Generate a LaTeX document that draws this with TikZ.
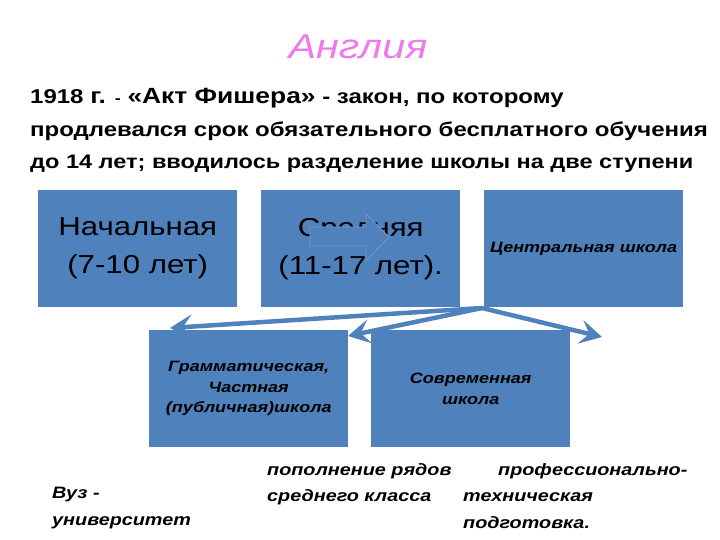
\documentclass[tikz,border=0pt]{standalone}
\usepackage{fontspec}
\setmainfont[FakeStretch=1.2]{Liberation Sans}
\newfontfamily\arial[FakeStretch=1.2]{Liberation Sans}
\usetikzlibrary{arrows.meta,positioning}
\definecolor{boxblue}{RGB}{79,129,189}
\definecolor{arrowline}{RGB}{120,150,200}
\definecolor{titlepink}{RGB}{236,124,236}
\tikzset{
	schoolbox/.style={fill=boxblue, minimum width=199pt, minimum height=117pt,
		anchor=north west, inner sep=0pt, align=center, text=black},
	bigtext/.style={font=\arial\fontsize{26}{38}\selectfont},
	smalltext/.style={font=\arial\bfseries\itshape\fontsize{15}{20.5}\selectfont},
	notetext/.style={font=\arial\bfseries\itshape\fontsize{16.5}{20}\selectfont, anchor=base west, inner sep=0pt},
	bodyline/.style={font=\arial\bfseries\fontsize{20}{24}\selectfont, anchor=base west, inner sep=0pt},
	branch/.style={draw=boxblue, line width=4.5pt, -{Stealth[length=22pt,width=24pt,inset=9pt]}}
}
\begin{document}
\begin{tikzpicture}[x=1pt,y=-1pt]
	\useasboundingbox (0,0) rectangle (720,540);

	% title and header text
	\node[text=titlepink, font=\arial\itshape\fontsize{34.5}{40}\selectfont] (title) at (358,47) {Англия};
	\node[bodyline] (head1) at (30,104) {1918 {\fontsize{22}{24}\selectfont г.} {\fontsize{15}{20}\selectfont -} {\fontsize{22}{24}\selectfont «Акт Фишера»} - закон, по которому};
	\node[bodyline] (head2) at (30,137) {продлевался срок обязательного бесплатного обучения};
	\node[bodyline, font=\arial\bfseries\fontsize{19.6}{24}\selectfont] (head3) at (30,169) {до 14 лет; вводилось разделение школы на две ступени};

	% upper row
	\node[schoolbox, bigtext] (primary) at (38,190) {Начальная\\(7-10 лет)};
	\node[schoolbox, bigtext] (secondary) at (261,190) {Средняя\\(11-17 лет).};
	\node[schoolbox, smalltext] (central) at (484,190) {Центральная школа};

	% block arrow over the second box
	\filldraw[fill=boxblue, draw=arrowline, line width=0.8pt]
		(310,227) -- (366,227) -- (366,214) -- (389,237) -- (366,261) -- (366,246) -- (310,246) -- cycle;

	% lower row
	\node[schoolbox, smalltext] (grammar) at (149,330) {Грамматическая,\\Частная\\(публичная)школа};
	\node[schoolbox, smalltext] (modern) at (371,330) {Современная\\школа};

	% branches
	\coordinate (fork) at (482,308);
	\coordinate (toleft) at (170,328);
	\coordinate (tomid) at (348,336);
	\coordinate (toright) at (602,337);
	\draw[branch] (fork) -- (toleft);
	\draw[branch] (fork) -- (tomid);
	\draw[branch] (fork) -- (toright);

	% notes under the boxes
	\node[notetext] (uni1) at (52,498) {Вуз -};
	\node[notetext] (uni2) at (52,525) {университет};
	\node[notetext] (middle1) at (267,475) {пополнение рядов};
	\node[notetext] (middle2) at (267,501) {среднего класса};
	\node[notetext] (prof1) at (498,475) {профессионально-};
	\node[notetext] (prof2) at (463,501) {техническая};
	\node[notetext] (prof3) at (463,528) {подготовка.};
\end{tikzpicture}
\end{document}
